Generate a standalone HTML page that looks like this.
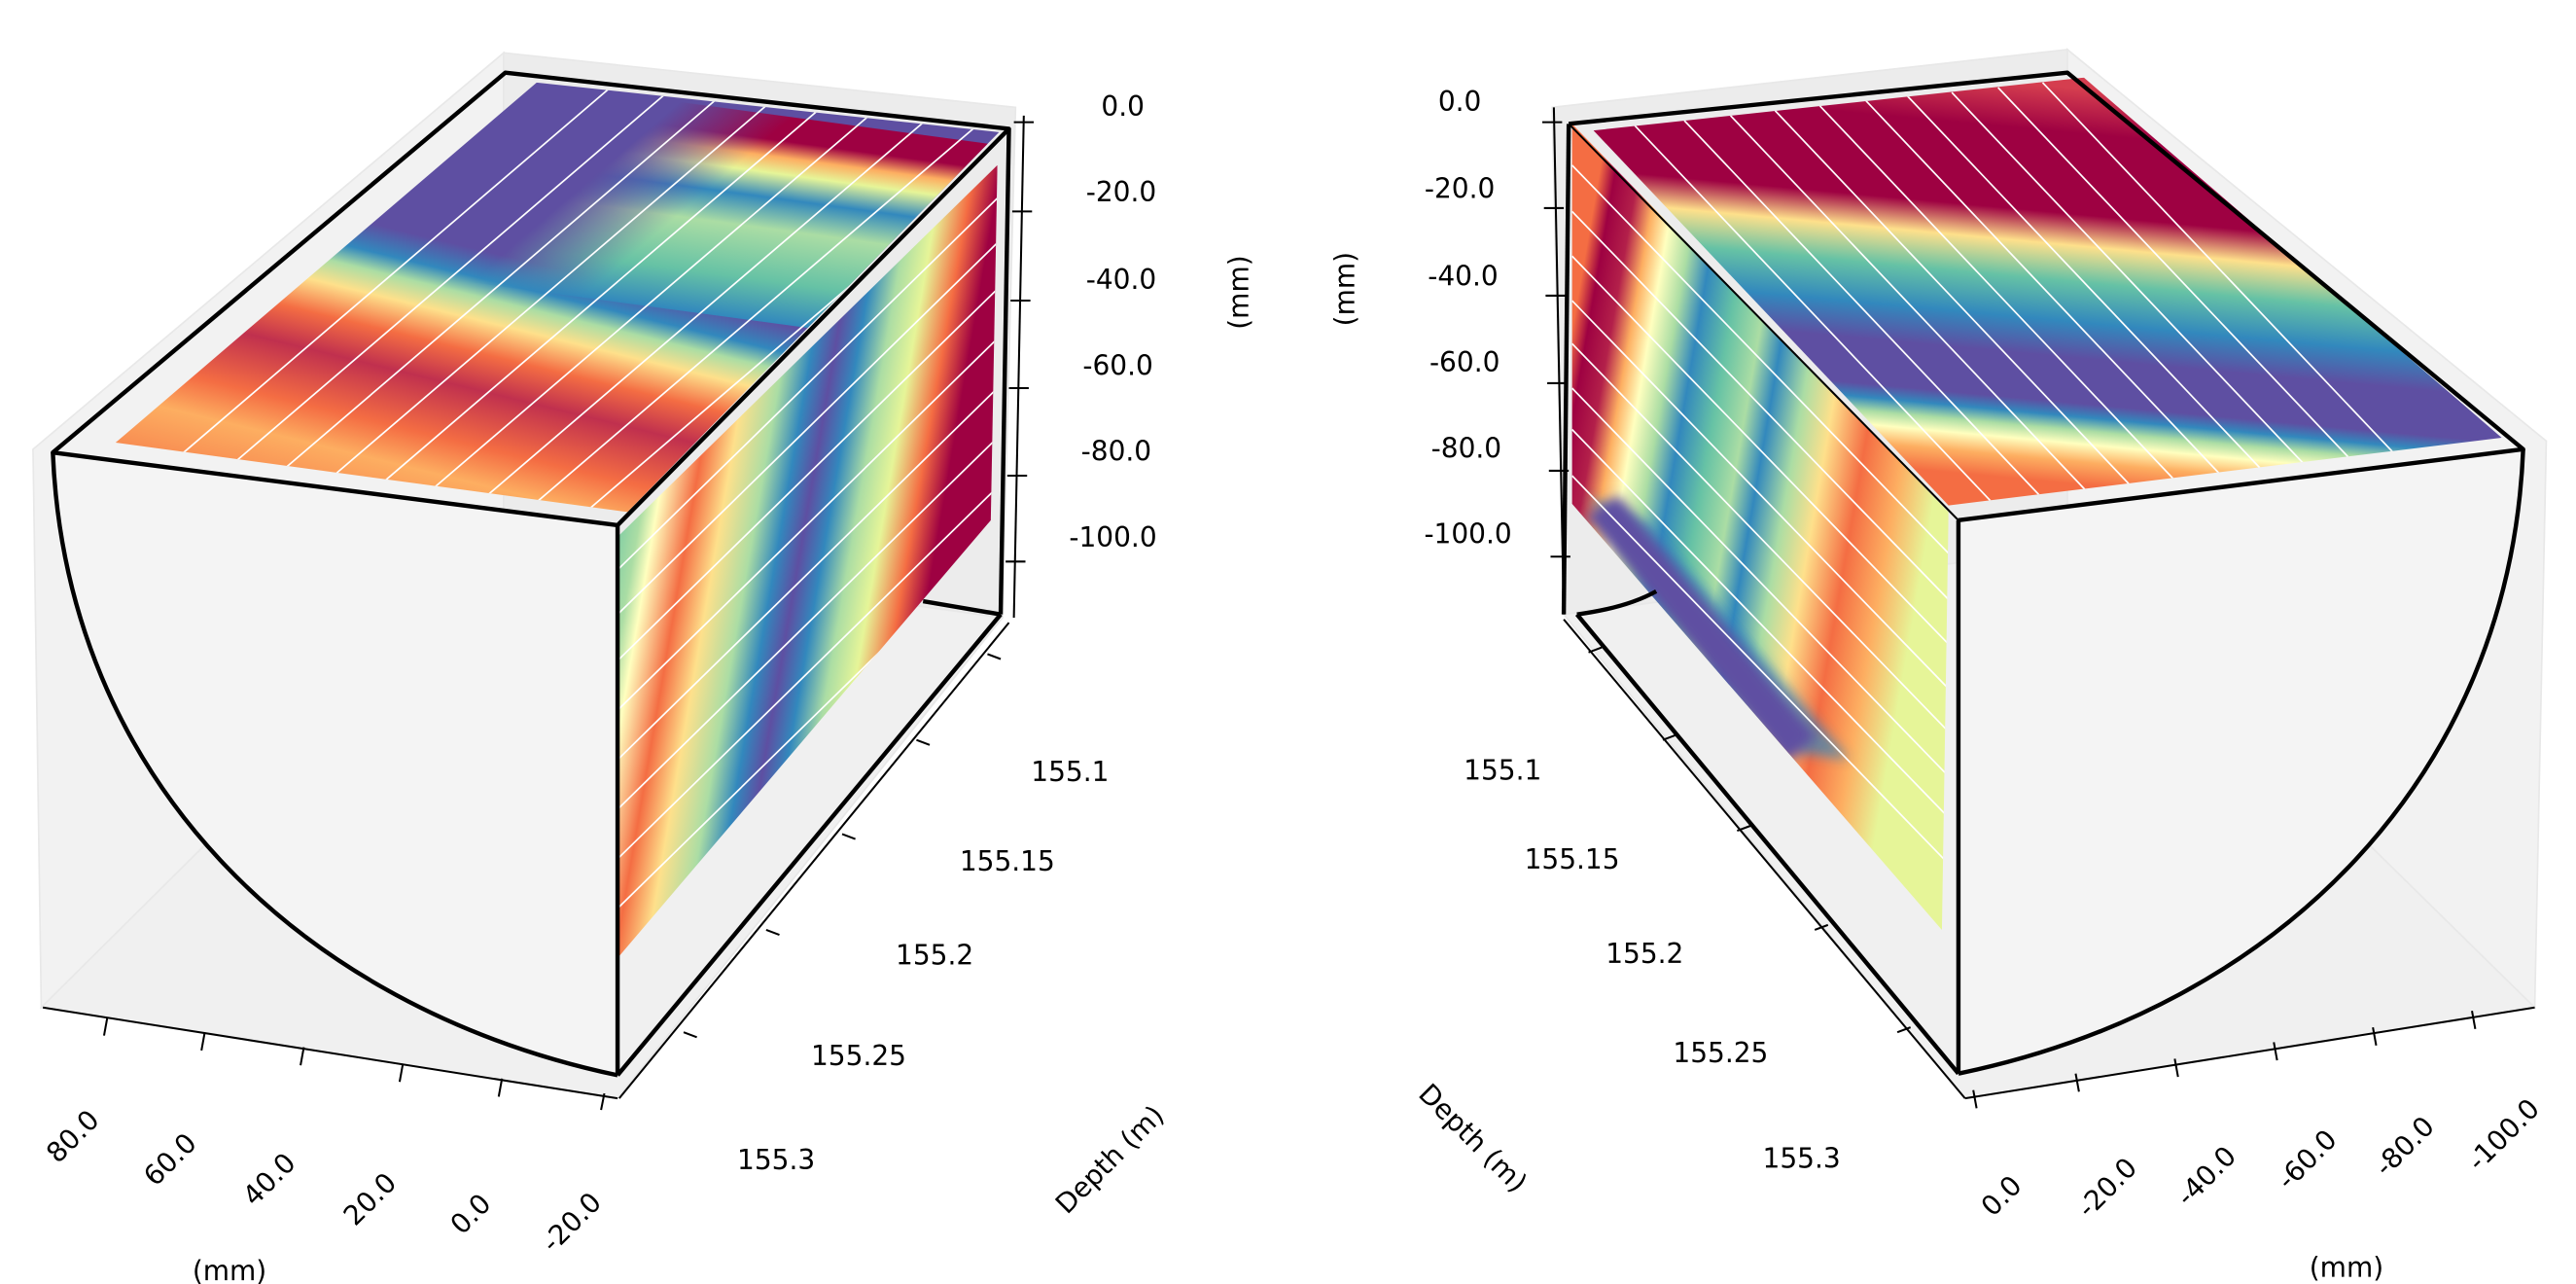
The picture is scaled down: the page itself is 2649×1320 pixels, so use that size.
<!DOCTYPE html>
<html><head><meta charset="utf-8"><style>
html,body{margin:0;padding:0;background:#fff;}
svg{display:block;}
text{font-family:"DejaVu Sans","Liberation Sans",sans-serif;font-size:16.5px;fill:#000;}
</style></head><body>
<svg width="2649" height="1320" viewBox="0 0 1560 777.4" preserveAspectRatio="none" xmlns="http://www.w3.org/2000/svg">
<defs>
<linearGradient id="gTopLv" gradientUnits="userSpaceOnUse" x1="0" y1="0" x2="0.12" y2="1">
<stop offset="0" stop-color="#f88d52"/><stop offset="0.1" stop-color="#fdae61"/>
<stop offset="0.18" stop-color="#f46d43"/><stop offset="0.3" stop-color="#c0304e"/>
<stop offset="0.38" stop-color="#f46d43"/><stop offset="0.45" stop-color="#fee08b"/>
<stop offset="0.5" stop-color="#abdda4"/><stop offset="0.54" stop-color="#3288bd"/>
<stop offset="0.6" stop-color="#5e4fa2"/><stop offset="1" stop-color="#5e4fa2"/>
</linearGradient>
<linearGradient id="gTopLa" gradientUnits="userSpaceOnUse" x1="0" y1="0.5" x2="0" y2="1">
<stop offset="0" stop-color="#3288bd"/><stop offset="0.2" stop-color="#66c2a5"/>
<stop offset="0.45" stop-color="#abdda4"/><stop offset="0.6" stop-color="#3288bd"/>
<stop offset="0.72" stop-color="#e6f598"/><stop offset="0.8" stop-color="#fdae61"/>
<stop offset="0.88" stop-color="#9e0142"/><stop offset="1" stop-color="#9e0142"/>
</linearGradient>
<linearGradient id="mTopL" gradientUnits="userSpaceOnUse" x1="0.28" y1="0" x2="0.5" y2="0">
<stop offset="0" stop-color="#fff" stop-opacity="0"/><stop offset="1" stop-color="#fff" stop-opacity="1"/>
</linearGradient>
<mask id="maskTopL" maskContentUnits="userSpaceOnUse"><rect x="0" y="0" width="1" height="1" fill="url(#mTopL)"/></mask>

<linearGradient id="gSideL" gradientUnits="userSpaceOnUse" x1="344" y1="445" x2="571" y2="484">
<stop offset="0" stop-color="#66c2a5"/><stop offset="0.09" stop-color="#abdda4"/>
<stop offset="0.13" stop-color="#ffffbf"/><stop offset="0.22" stop-color="#f46d43"/>
<stop offset="0.3" stop-color="#fee08b"/><stop offset="0.39" stop-color="#abdda4"/>
<stop offset="0.46" stop-color="#3288bd"/><stop offset="0.52" stop-color="#5e4fa2"/>
<stop offset="0.58" stop-color="#3288bd"/><stop offset="0.65" stop-color="#abdda4"/>
<stop offset="0.72" stop-color="#e6f598"/><stop offset="0.8" stop-color="#f46d43"/>
<stop offset="0.87" stop-color="#9e0142"/><stop offset="1" stop-color="#9e0142"/>
</linearGradient>
<linearGradient id="gTopR" gradientUnits="userSpaceOnUse" x1="1220" y1="50" x2="1195" y2="320">
<stop offset="0" stop-color="#d53e4f"/><stop offset="0.1" stop-color="#9e0142"/>
<stop offset="0.28" stop-color="#9e0142"/><stop offset="0.35" stop-color="#fee08b"/>
<stop offset="0.43" stop-color="#66c2a5"/><stop offset="0.52" stop-color="#3288bd"/>
<stop offset="0.6" stop-color="#5e4fa2"/><stop offset="0.7" stop-color="#5e4fa2"/>
<stop offset="0.73" stop-color="#3288bd"/><stop offset="0.76" stop-color="#abdda4"/>
<stop offset="0.79" stop-color="#ffffbf"/><stop offset="0.83" stop-color="#fdae61"/>
<stop offset="0.88" stop-color="#f46d43"/><stop offset="1" stop-color="#f46d43"/>
</linearGradient>
<linearGradient id="gSideR" gradientUnits="userSpaceOnUse" x1="952" y1="200" x2="1182" y2="240">
<stop offset="0" stop-color="#f46d43"/><stop offset="0.04" stop-color="#9e0142"/>
<stop offset="0.1" stop-color="#b3204a"/><stop offset="0.15" stop-color="#fdae61"/>
<stop offset="0.2" stop-color="#ffffbf"/><stop offset="0.26" stop-color="#abdda4"/>
<stop offset="0.32" stop-color="#3288bd"/><stop offset="0.4" stop-color="#66c2a5"/>
<stop offset="0.48" stop-color="#abdda4"/><stop offset="0.54" stop-color="#3288bd"/>
<stop offset="0.62" stop-color="#abdda4"/><stop offset="0.7" stop-color="#fee08b"/>
<stop offset="0.8" stop-color="#f46d43"/><stop offset="0.9" stop-color="#fdae61"/>
<stop offset="1" stop-color="#e6f598"/>
</linearGradient>
<filter id="blur3" x="-50%" y="-50%" width="200%" height="200%"><feGaussianBlur stdDeviation="3.5"/></filter>
<clipPath id="cTopL"><polygon points="70,268 325,50 605,80 380,310"/></clipPath>
<clipPath id="cSideL"><polygon points="374,325 604,100 600,315 374,580"/></clipPath>
<clipPath id="cTopR"><polygon points="965,79 1262,47 1515,265 1180,306"/></clipPath>
<clipPath id="cSideR"><polygon points="952,75 1180,310 1176,563 952,305"/></clipPath>
</defs>

<polygon points="20,272 305,32 305,332 25,610" fill="#f2f2f2" stroke="#e8e8e8"/>
<polygon points="305,32 615,65 607,374 305,332" fill="#ececec" stroke="#e8e8e8"/>
<polygon points="25,610 305,332 607,374 374,665" fill="#f0f0f0" stroke="#e8e8e8"/>
<path d="M32,274 C40,470 180,610 374,651 L374,318 Z" fill="#f4f4f4"/>

<g clip-path="url(#cTopL)">
<g transform="matrix(310,42,255,-218,70,268)">
<rect x="-0.1" y="-0.1" width="1.2" height="1.2" fill="url(#gTopLv)"/>
<rect x="0" y="0.5" width="1.1" height="0.6" fill="url(#gTopLa)" mask="url(#maskTopL)"/>
</g>
<g stroke="#fff" stroke-width="1">
<line x1="110" y1="275" x2="400" y2="27"/><line x1="142" y1="280" x2="432" y2="32"/>
<line x1="172" y1="284" x2="462" y2="36"/><line x1="202" y1="288" x2="492" y2="40"/>
<line x1="232" y1="292" x2="522" y2="44"/><line x1="262" y1="296" x2="552" y2="48"/>
<line x1="295" y1="300" x2="585" y2="52"/><line x1="325" y1="304" x2="615" y2="56"/>
<line x1="357" y1="308" x2="647" y2="60"/>
</g></g>
<g clip-path="url(#cSideL)">
<rect x="360" y="80" width="260" height="520" fill="url(#gSideL)"/>
<g stroke="#fff" stroke-width="1">
<line x1="374" y1="345" x2="604" y2="120"/><line x1="374" y1="372" x2="604" y2="147"/>
<line x1="374" y1="400" x2="604" y2="175"/><line x1="374" y1="430" x2="604" y2="205"/>
<line x1="374" y1="460" x2="604" y2="235"/><line x1="374" y1="490" x2="604" y2="265"/>
<line x1="374" y1="520" x2="604" y2="295"/><line x1="374" y1="550" x2="604" y2="325"/>
</g></g>

<g fill="none" stroke="#000" stroke-width="2.6" stroke-linejoin="round">
<polygon points="32,274 306,44 611,78 374,318"/>
<line x1="374" y1="318" x2="374" y2="651"/>
<path d="M32,274 C40,470 180,610 374,651"/>
<line x1="611" y1="78" x2="606" y2="372"/>
<line x1="606" y1="372" x2="374" y2="651"/>
<line x1="559" y1="364" x2="606" y2="372"/>
</g>
<g stroke="#000" stroke-width="1.2" fill="none">
<line x1="26" y1="610" x2="374" y2="665"/>
<line x1="65" y1="616" x2="63" y2="627"/><line x1="124" y1="625" x2="122" y2="636"/>
<line x1="184" y1="634" x2="182" y2="645"/><line x1="244" y1="644" x2="242" y2="655"/>
<line x1="304" y1="653" x2="302" y2="664"/><line x1="366" y1="662" x2="364" y2="672"/>
<line x1="611" y1="377" x2="375" y2="665"/>
<line x1="598" y1="396" x2="606" y2="399"/><line x1="555" y1="448" x2="563" y2="451"/>
<line x1="510" y1="505" x2="518" y2="508"/><line x1="464" y1="563" x2="472" y2="566"/>
<line x1="414" y1="625" x2="422" y2="628"/>
<line x1="620" y1="70" x2="614" y2="374"/>
<line x1="614" y1="74" x2="626" y2="74"/><line x1="613" y1="128" x2="625" y2="128"/>
<line x1="612" y1="182" x2="624" y2="182"/><line x1="611" y1="235" x2="623" y2="235"/>
<line x1="610" y1="288" x2="622" y2="288"/><line x1="609" y1="340" x2="621" y2="340"/>
</g>
<g text-anchor="middle">
<text x="680" y="70">0.0</text><text x="679" y="122">-20.0</text>
<text x="679" y="175">-40.0</text><text x="677" y="227">-60.0</text>
<text x="676" y="279">-80.0</text><text x="674" y="331">-100.0</text>
<text transform="translate(756,177) rotate(-90)">(mm)</text>
<text x="648" y="473">155.1</text><text x="610" y="527">155.15</text>
<text x="566" y="584">155.2</text><text x="520" y="645">155.25</text>
<text x="470" y="708">155.3</text>
<text transform="translate(676,706) rotate(-45)">Depth (m)</text>
<text transform="translate(48,692) rotate(-45)">80.0</text>
<text transform="translate(107,706) rotate(-45)">60.0</text>
<text transform="translate(167,718) rotate(-45)">40.0</text>
<text transform="translate(228,730) rotate(-45)">20.0</text>
<text transform="translate(289,739) rotate(-45)">0.0</text>
<text transform="translate(350,744) rotate(-45)">-20.0</text>
<text x="139" y="775">(mm)</text>
</g>

<polygon points="940,65 1252,30 1252,332 947,372" fill="#ececec" stroke="#e8e8e8"/>
<polygon points="1252,30 1542,267 1535,610 1252,332" fill="#f2f2f2" stroke="#e8e8e8"/>
<polygon points="947,372 1252,332 1535,610 1190,665" fill="#f0f0f0" stroke="#e8e8e8"/>
<path d="M1528,272 C1520,470 1380,610 1186,650 L1186,315 Z" fill="#f4f4f4"/>

<g clip-path="url(#cTopR)">
<rect x="950" y="30" width="580" height="290" fill="url(#gTopR)"/>
<g stroke="#fff" stroke-width="1">
<line x1="990" y1="76" x2="1227" y2="326"/><line x1="1020" y1="73" x2="1257" y2="323"/>
<line x1="1048" y1="70" x2="1285" y2="320"/><line x1="1075" y1="67" x2="1312" y2="317"/>
<line x1="1102" y1="64" x2="1339" y2="314"/><line x1="1130" y1="61" x2="1367" y2="311"/>
<line x1="1155" y1="58" x2="1392" y2="308"/><line x1="1182" y1="56" x2="1419" y2="306"/>
<line x1="1210" y1="53" x2="1447" y2="303"/><line x1="1237" y1="50" x2="1474" y2="300"/>
</g></g>
<g clip-path="url(#cSideR)">
<rect x="945" y="60" width="245" height="520" fill="url(#gSideR)"/>
<polygon points="975,316 1090,456 1120,460 1000,318 960,300" fill="#3288bd" opacity="0.7" filter="url(#blur3)"/>
<polygon points="960,312 1082,462 1100,446 980,300" fill="#5e4fa2" filter="url(#blur3)"/>
<g stroke="#fff" stroke-width="1">
<line x1="952" y1="100" x2="1180" y2="335"/><line x1="952" y1="128" x2="1180" y2="363"/>
<line x1="952" y1="155" x2="1180" y2="390"/><line x1="952" y1="182" x2="1180" y2="417"/>
<line x1="952" y1="208" x2="1180" y2="443"/><line x1="952" y1="235" x2="1180" y2="470"/>
<line x1="952" y1="260" x2="1180" y2="495"/><line x1="952" y1="288" x2="1180" y2="523"/>
</g></g>

<g fill="none" stroke="#000" stroke-width="2.6" stroke-linejoin="round">
<polyline points="950,75 1252,44 1528,272 1186,315"/>
<line x1="1186" y1="315" x2="1186" y2="650"/>
<path d="M1528,272 C1520,470 1380,610 1186,650"/>
<line x1="950" y1="75" x2="947" y2="372"/>
<line x1="955" y1="372" x2="1186" y2="650"/>
<path d="M955,372 Q985,368 1003,358"/>
</g>
<line x1="950" y1="75" x2="1186" y2="315" stroke="#000" stroke-width="1.2"/>
<g stroke="#000" stroke-width="1.2" fill="none">
<line x1="941" y1="65" x2="947" y2="372"/>
<line x1="934" y1="74" x2="946" y2="74"/><line x1="935" y1="126" x2="947" y2="126"/>
<line x1="936" y1="179" x2="948" y2="179"/><line x1="937" y1="232" x2="949" y2="232"/>
<line x1="938" y1="285" x2="950" y2="285"/><line x1="939" y1="337" x2="951" y2="337"/>
<line x1="947" y1="375" x2="1190" y2="665"/>
<line x1="962" y1="395" x2="970" y2="392"/><line x1="1007" y1="448" x2="1015" y2="445"/>
<line x1="1052" y1="503" x2="1060" y2="500"/><line x1="1099" y1="563" x2="1107" y2="560"/>
<line x1="1149" y1="625" x2="1157" y2="622"/>
<line x1="1190" y1="665" x2="1535" y2="610"/>
<line x1="1195" y1="660" x2="1197" y2="671"/><line x1="1257" y1="650" x2="1259" y2="661"/>
<line x1="1317" y1="641" x2="1319" y2="652"/><line x1="1377" y1="631" x2="1379" y2="642"/>
<line x1="1437" y1="622" x2="1439" y2="633"/><line x1="1497" y1="612" x2="1499" y2="623"/>
</g>
<g text-anchor="middle">
<text x="884" y="67">0.0</text><text x="884" y="120">-20.0</text>
<text x="886" y="173">-40.0</text><text x="887" y="225">-60.0</text>
<text x="888" y="277">-80.0</text><text x="889" y="329">-100.0</text>
<text transform="translate(820,175) rotate(-90)">(mm)</text>
<text x="910" y="472">155.1</text><text x="952" y="526">155.15</text>
<text x="996" y="583">155.2</text><text x="1042" y="643">155.25</text>
<text x="1091" y="707">155.3</text>
<text transform="translate(888,693) rotate(45)">Depth (m)</text>
<text transform="translate(1216,728) rotate(-45)">0.0</text>
<text transform="translate(1280,723) rotate(-45)">-20.0</text>
<text transform="translate(1340,716) rotate(-45)">-40.0</text>
<text transform="translate(1401,706) rotate(-45)">-60.0</text>
<text transform="translate(1460,698) rotate(-45)">-80.0</text>
<text transform="translate(1520,691) rotate(-45)">-100.0</text>
<text x="1421" y="773">(mm)</text>
</g>
</svg>
</body></html>
